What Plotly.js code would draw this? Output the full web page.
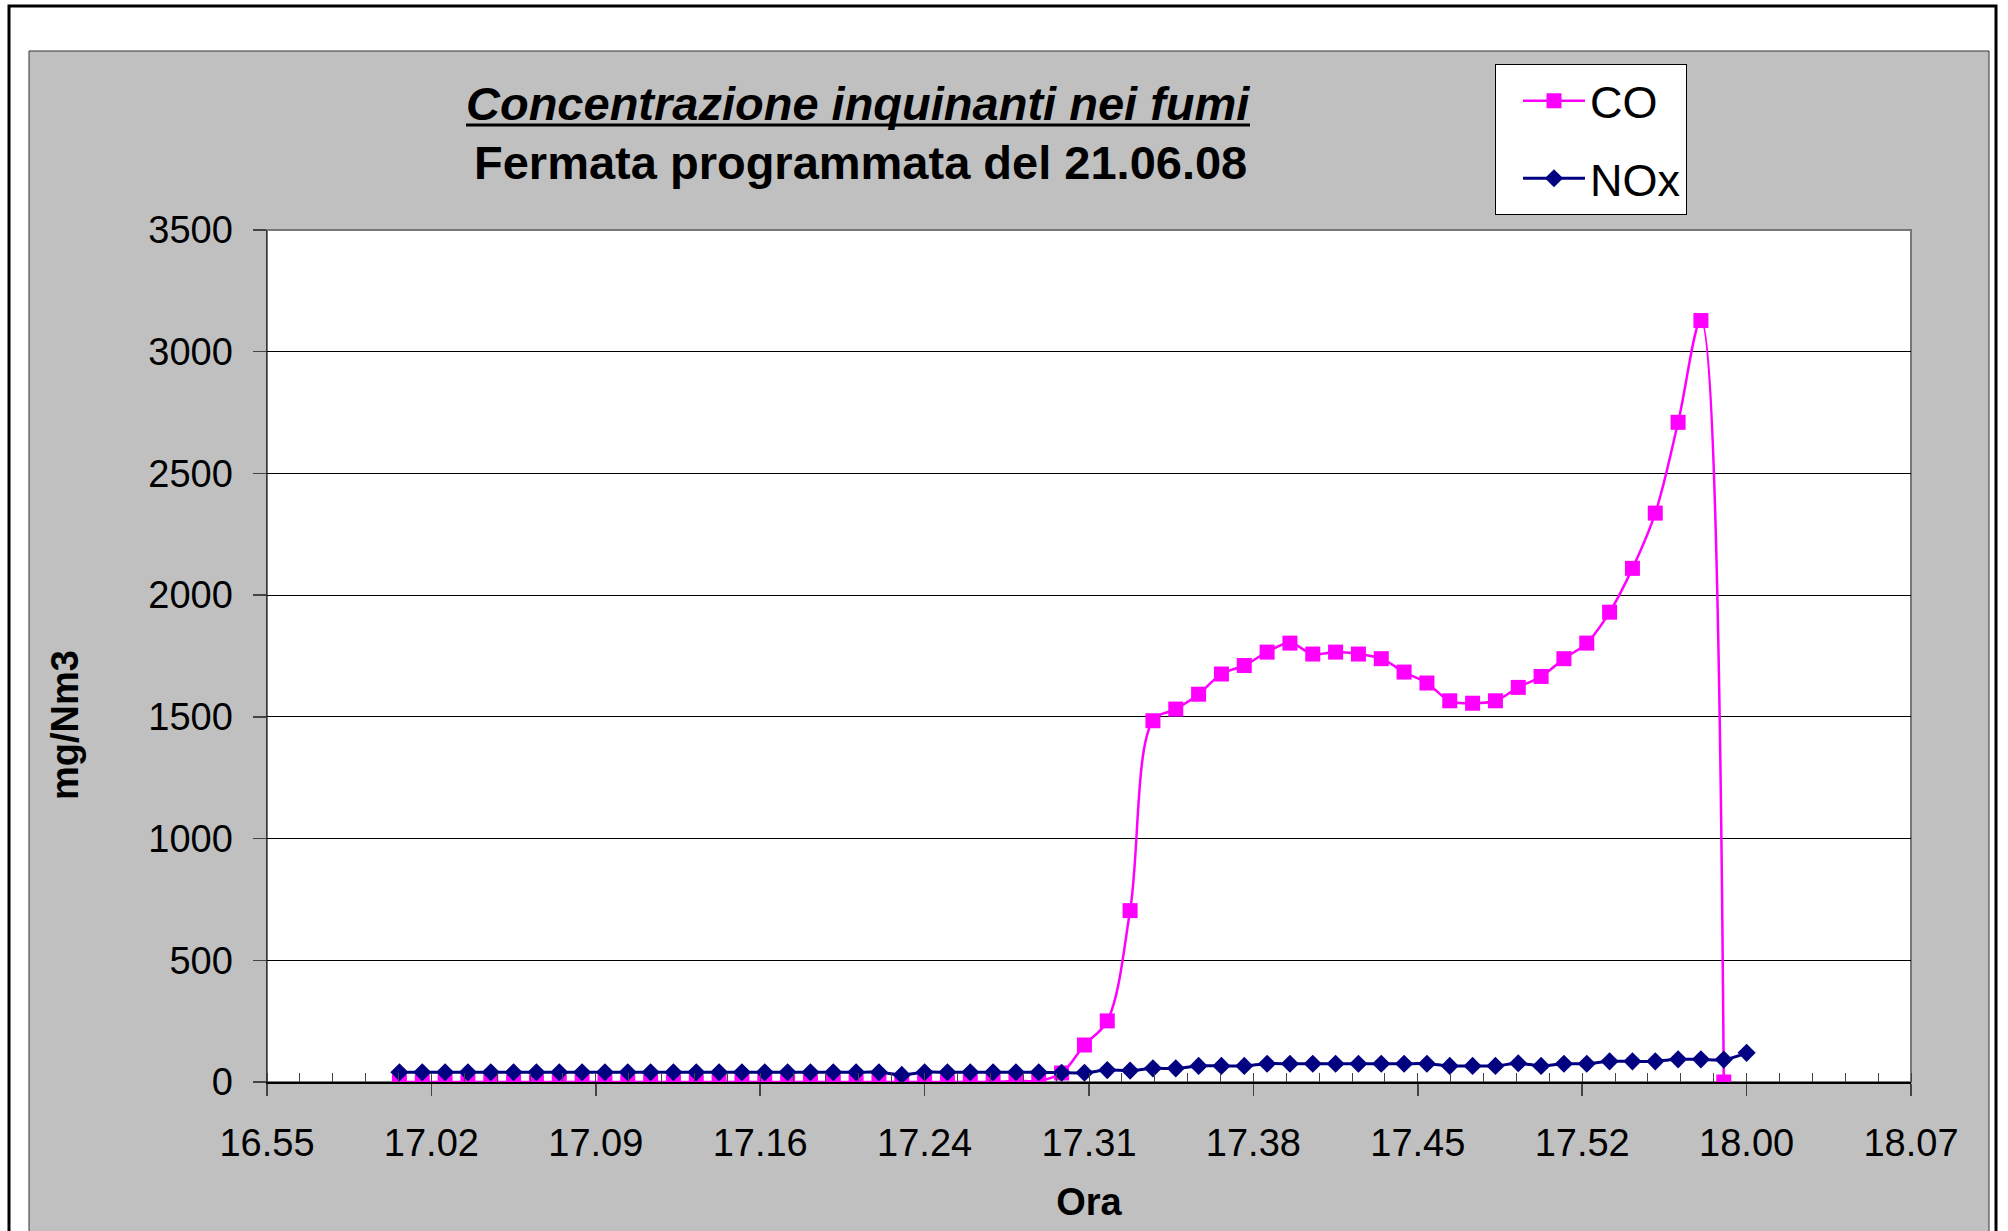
<!DOCTYPE html>
<html>
<head>
<meta charset="utf-8">
<script src="https://cdn.plot.ly/plotly-3.0.1.min.js"></script>
<style>html,body{margin:0;padding:0;background:#fff;}#chart{width:2008px;height:1231px;}</style>
</head>
<body>
<div id="chart"></div>
<script>
// ---- data ----
const day = '2008-06-21';
const times = [
 '17:01','17:02','17:03','17:04','17:05','17:06','17:07','17:08','17:09','17:10',
 '17:11','17:12','17:13','17:14','17:15','17:16','17:17','17:18','17:19','17:20',
 '17:21','17:22','17:23','17:24','17:25','17:26','17:27','17:28','17:29','17:30',
 '17:31','17:32','17:33','17:34','17:35','17:36','17:37','17:38','17:39','17:40',
 '17:41','17:42','17:43','17:44','17:45','17:46','17:47','17:48','17:49','17:50',
 '17:51','17:52','17:53','17:54','17:55','17:56','17:57','17:58','17:59','18:00'
];
// CO (mg/Nm3), 17:01 .. 17:59
const coValues = [
 0,0,0,0,0,0,0,0,0,0,
 0,0,0,0,0,0,0,0,0,0,
 0,0,0,0,0,0,0,5,5,37,
 152,251,704,1484,1532,1593,1676,1711,1766,1803,
 1758,1766,1758,1739,1684,1639,1566,1556,1566,1621,
 1666,1739,1803,1930,2110,2337,2710,3128,0
];
// NOx (mg/Nm3), 17:01 .. 18:00
const noxValues = [
 40,40,40,40,40,40,40,40,40,40,
 40,40,40,40,40,40,40,40,40,40,
 40,40,29,40,40,40,40,40,40,38,
 38,49,47,56,56,66,66,66,75,75,
 75,75,75,75,75,75,66,66,66,77,
 66,75,75,85,85,85,93,93,92,120
];
const seriesNames = ['CO', 'NOx'];
const xRange = ['16:55:12', '18:07:12'];
const yRange = [0, 3500];
const titleLine1 = 'Concentrazione inquinanti nei fumi';
const titleLine2 = 'Fermata programmata del 21.06.08';
const xTitle = 'Ora';
const yTitle = 'mg/Nm3';

// ---- layout geometry (pixels) ----
const W = 2008, H = 1231;
const L = 267, R = 1911, T = 230, B = 1082;
const pw = R - L, ph = B - T;
const px = x => (x - L) / pw;
const py = y => (B - y) / ph;
const FONT = 'Arial, "Liberation Sans", sans-serif';

const toDate = t => day + ' ' + (t.length === 5 ? t + ':00' : t);

const traces = [
  {
    type: 'scatter', mode: 'lines+markers', name: seriesNames[0], legendgroup: 'g1',
    x: times.slice(0, coValues.length).map(toDate), y: coValues,
    line: {color: '#FF00FF', width: 2.5, shape: 'spline', smoothing: 1},
    marker: {symbol: 'square', size: 15, color: '#FF00FF', line: {width: 0}}
  },
  {
    type: 'scatter', mode: 'lines+markers', name: seriesNames[1], legendgroup: 'g2',
    x: times.map(toDate), y: noxValues,
    line: {color: '#000080', width: 3, shape: 'spline', smoothing: 1},
    marker: {symbol: 'diamond', size: 14, color: '#000080', line: {width: 0}}
  }
];

const shapes = [
  // white page strips around the grey chart area
  {type:'rect', xref:'paper', yref:'paper', x0:px(0), x1:px(W), y0:py(0), y1:py(51), fillcolor:'#fff', line:{width:0}, layer:'below'},
  {type:'rect', xref:'paper', yref:'paper', x0:px(0), x1:px(29), y0:py(0), y1:py(H+10), fillcolor:'#fff', line:{width:0}, layer:'below'},
  {type:'rect', xref:'paper', yref:'paper', x0:px(1989), x1:px(W), y0:py(0), y1:py(H+10), fillcolor:'#fff', line:{width:0}, layer:'below'},
  // grey chart area border
  {type:'rect', xref:'paper', yref:'paper', x0:px(29), x1:px(1989), y0:py(51), y1:py(H+20), line:{color:'#333', width:1}, layer:'below'},
  // outer black frame
  {type:'rect', xref:'paper', yref:'paper', x0:px(9), x1:px(1996), y0:py(6), y1:py(H+20), line:{color:'#000', width:3}, layer:'below'},
  // plot area border
  {type:'rect', xref:'paper', yref:'paper', x0:0, x1:1, y0:0, y1:1, line:{color:'#777', width:2}, layer:'below'},
  // thick underline of the first title line
  {type:'line', xref:'paper', yref:'paper', x0:px(466), x1:px(1250), y0:py(125), y1:py(125), line:{color:'#000', width:3}, layer:'above'}
];

const annotations = [
  {xref:'paper', yref:'paper', x:px(858), y:py(103), xanchor:'center', yanchor:'middle', showarrow:false,
   text:'<b><i>' + titleLine1 + '</i></b>',
   font:{family:FONT, size:47, color:'#000'}},
  {xref:'paper', yref:'paper', x:px(860), y:py(163), xanchor:'center', yanchor:'middle', showarrow:false,
   text:'<b>' + titleLine2 + '</b>',
   font:{family:FONT, size:47, color:'#000'}},
  {xref:'paper', yref:'paper', x:px(65), y:py(725), xanchor:'center', yanchor:'middle', showarrow:false, textangle:-90,
   text:'<b>' + yTitle + '</b>',
   font:{family:FONT, size:38, color:'#000'}}
];

const layout = {
  width: W, height: H,
  margin: {l: L, r: W - R, t: T, b: H - B, pad: 0},
  paper_bgcolor: '#C0C0C0',
  plot_bgcolor: '#FFFFFF',
  font: {family: FONT, color: '#000'},
  showlegend: true,
  legend: {
    x: px(1495), y: py(64), xanchor: 'left', yanchor: 'top',
    bgcolor: '#fff', bordercolor: '#000', borderwidth: 1,
    font: {family: FONT, size: 45, color: '#000'},
    itemwidth: 62, indentation: 22, traceorder: 'grouped', tracegroupgap: 16
  },
  xaxis: {
    type: 'date',
    range: xRange.map(toDate),
    tick0: toDate(xRange[0]), dtick: 432000,
    tickformat: '%H.%M',
    ticks: 'outside', ticklen: 12, tickwidth: 1.5, tickcolor: '#444',
    minor: {tick0: toDate(xRange[0]), dtick: 86400, ticks: 'inside', ticklen: 9, tickwidth: 1, tickcolor: '#444', showgrid: false},
    showline: true, linecolor: '#000', linewidth: 2,
    showgrid: false, zeroline: false,
    tickfont: {family: FONT, size: 38, color: '#000'},
    ticklabelstandoff: 14,
    title: {text: '<b>' + xTitle + '</b>', font: {family: FONT, size: 38, color: '#000'}, standoff: 26}
  },
  yaxis: {
    range: yRange, dtick: 500, tick0: 0,
    ticks: 'outside', ticklen: 13, tickwidth: 1.5, tickcolor: '#444',
    showline: true, linecolor: '#333', linewidth: 1.5,
    showgrid: true, gridcolor: '#000', gridwidth: 1,
    zeroline: false,
    tickfont: {family: FONT, size: 38, color: '#000'},
    ticklabelstandoff: 12
  },
  shapes: shapes,
  annotations: annotations
};

Plotly.newPlot('chart', traces, layout, {staticPlot: true, displayModeBar: false});
</script>
</body>
</html>
